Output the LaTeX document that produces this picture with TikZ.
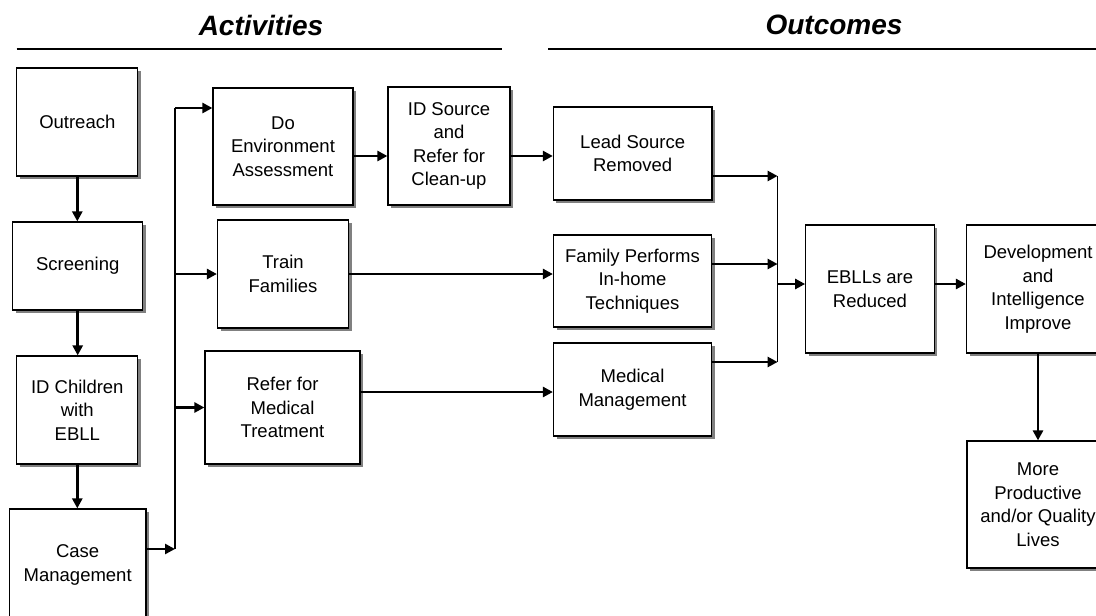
\documentclass[tikz,border=0pt]{standalone}
\usepackage{fontspec}
\setmainfont{Liberation Sans}
\usetikzlibrary{arrows.meta,shadows}
\tikzset{
  box/.style={draw,line width=1.2pt,fill=white,align=center,inner sep=1pt,
    font=\fontsize{18.5}{23.5}\selectfont,
    drop shadow={shadow xshift=3pt,shadow yshift=-3pt,fill=black!50,opacity=1}},
  arr/.style={line width=2.6pt,-{Triangle[length=10pt,width=10pt]}},
  bus/.style={line width=1.6pt},
  heading/.style={font=\fontsize{28}{30}\selectfont\bfseries\itshape}
}
\begin{document}
\begin{tikzpicture}[x=1pt,y=-1pt]
\clip (0,0) rectangle (1096,616);
\node[heading] (acts) at (261,25) {Activities};
\node[heading] (outs) at (834,25) {Outcomes};
\draw[line width=1.4pt] (16.5,49) -- (501.6,49);
\draw[line width=1.4pt] (548,49) -- (1096,49);
\foreach \n/\x/\y/\w/\h/\t in {
  outreach/77.3/122/121/108/{Outreach},
  screening/77.7/266/130/88/{Screening},
  idchild/77.3/410/121/108/{ID Children\\with\\EBLL},
  casemgmt/77.7/565/136.5/112/{Case\\Management},
  doenv/283/146.5/140/117/{Do\\Environment\\Assessment},
  idsource/449/146/122/118/{ID Source\\and\\Refer for\\Clean-up},
  train/283/274/131/108/{Train\\Families},
  refer/282.5/407.5/155/113/{Refer for\\Medical\\Treatment},
  lead/632.7/153.5/158.5/93/{Lead Source\\Removed},
  family/632.5/281/158/92/{Family Performs\\In-home\\Techniques},
  medical/632.5/389.5/158/93/{Medical\\Management},
  ebll/870/289/128.5/128/{EBLLs are\\Reduced},
  develop/1038/289/143/128/{Development\\and\\Intelligence\\Improve},
  lives/1038/504.5/142/127/{More\\Productive\\and/or Quality\\Lives}} {
  \node[box,minimum width=\w pt,minimum height=\h pt] (\n) at (\x,\y) {\t};
}
\coordinate (bustop) at (175,108);
\coordinate (busbot) at (175,549);
\coordinate (assessrow) at (0,156);
\coordinate (familyrow) at (0,264);
\coordinate (medrow) at (0,392);
\coordinate (mergetop) at (777.6,176);
\coordinate (mergebot) at (777.6,362);
\coordinate (mergeout) at (777.6,284);
\draw[arr] (outreach.south) -- (outreach.south |- screening.north);
\draw[arr] (screening.south) -- (screening.south |- idchild.north);
\draw[arr] (idchild.south) -- (idchild.south |- casemgmt.north);
\draw[bus] (busbot) -- (bustop);
\draw[arr] (casemgmt.east |- busbot) -- (busbot);
\draw[arr] (bustop) -- (bustop -| doenv.west);
\draw[arr] (bustop |- train.west) -- (train.west);
\draw[arr] (bustop |- refer.west) -- (refer.west);
\draw[arr] (doenv.east |- assessrow) -- (idsource.west |- assessrow);
\draw[arr] (idsource.east |- assessrow) -- (lead.west |- assessrow);
\draw[arr] (train.east) -- (train.east -| family.west);
\draw[arr] (refer.east |- medrow) -- (medical.west |- medrow);
\draw[bus] (mergetop) -- (mergebot);
\draw[arr] (lead.east |- mergetop) -- (mergetop);
\draw[arr] (family.east |- familyrow) -- (mergetop |- familyrow);
\draw[arr] (medical.east |- mergebot) -- (mergebot);
\draw[arr] (mergeout) -- (mergeout -| ebll.west);
\draw[arr] (ebll.east |- mergeout) -- (develop.west |- mergeout);
\draw[arr] (develop.south) -- (lives.north);
\end{tikzpicture}
\end{document}
